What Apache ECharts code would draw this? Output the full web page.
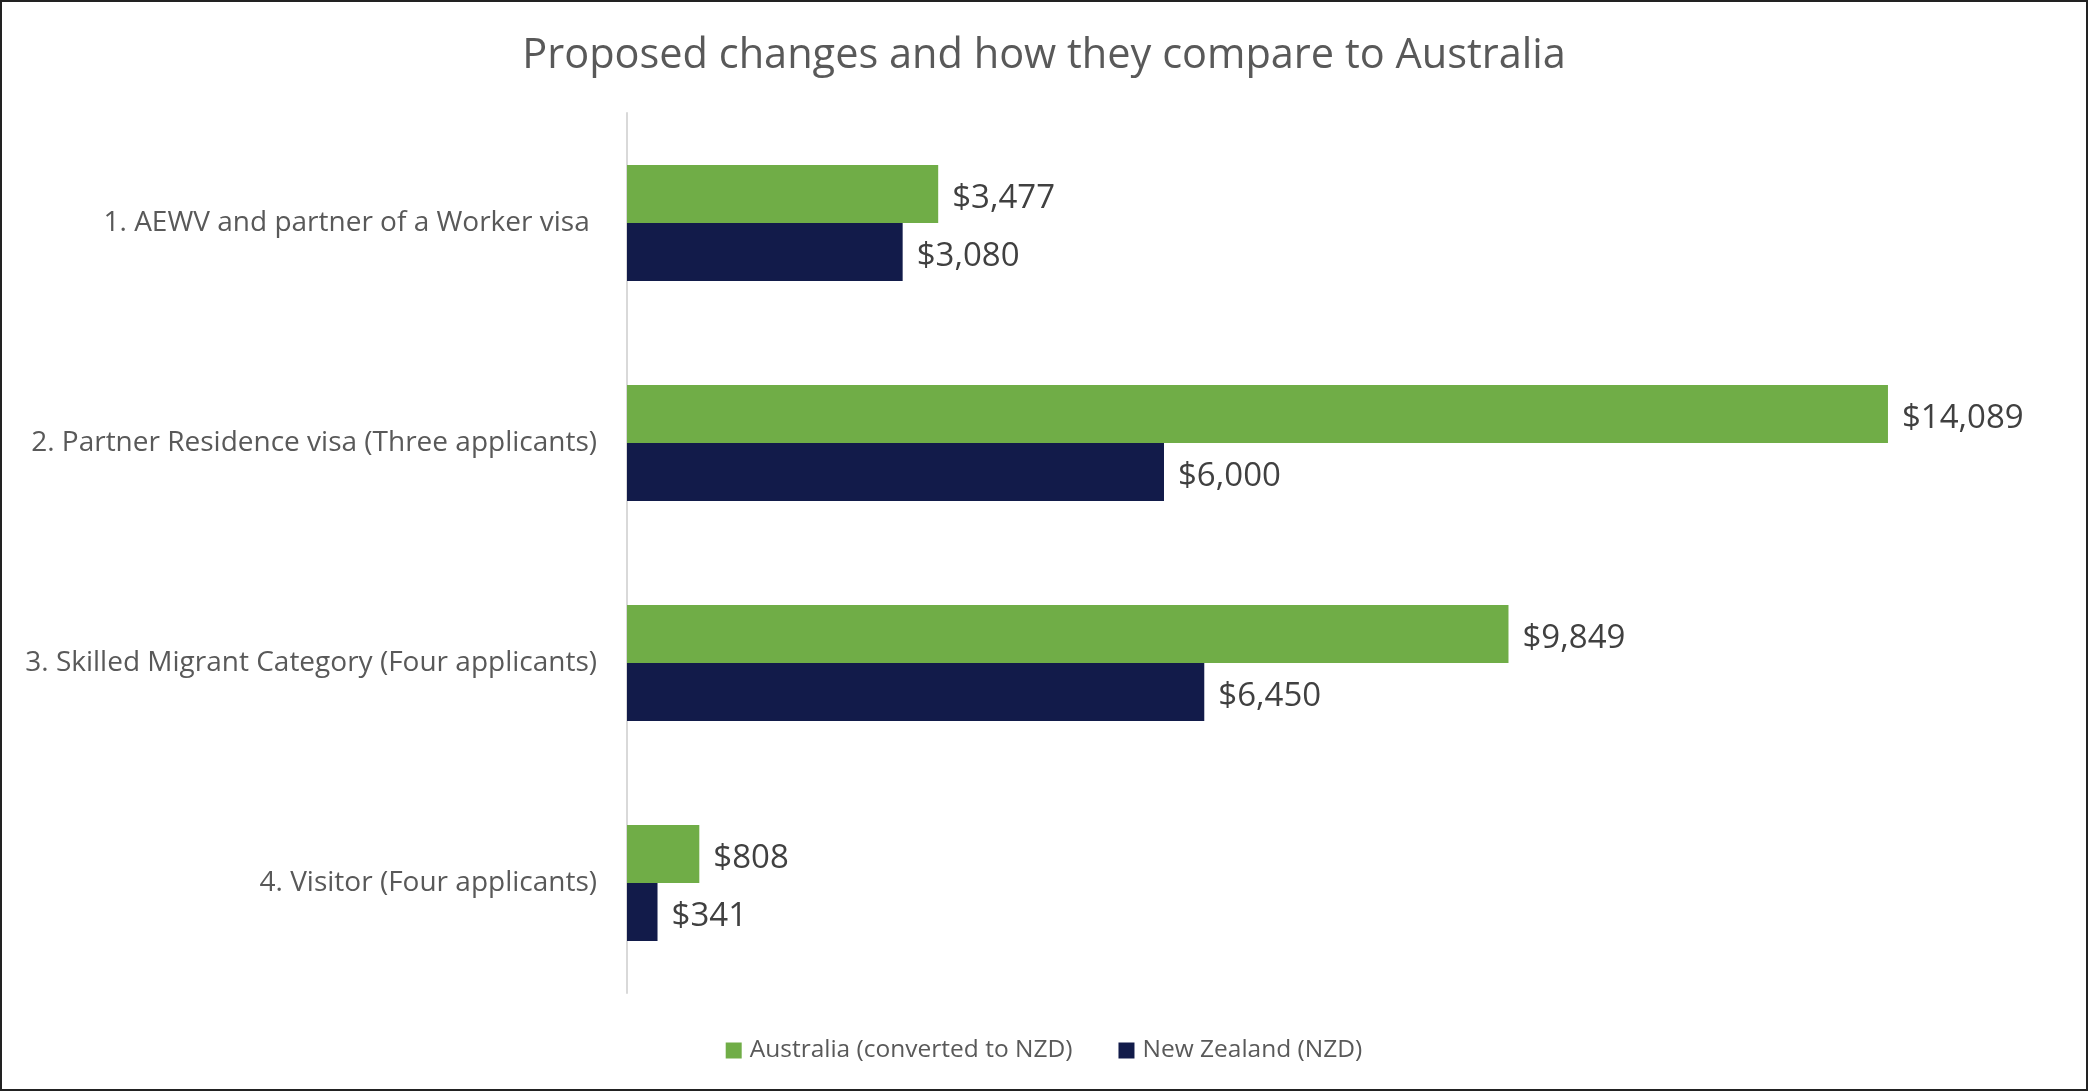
<!DOCTYPE html>
<html>
<head>
<meta charset="utf-8">
<script src="https://cdn.jsdelivr.net/npm/echarts@6/dist/echarts.min.js"></script>
<style>
  html, body { margin: 0; padding: 0; background: #fff; }
  #frame { width: 2088px; height: 1091px; box-sizing: border-box; border: 2px solid #222; position: relative; }
  #chart { position: absolute; left: -2px; top: -2px; width: 2088px; height: 1091px; }
</style>
</head>
<body>
<div id="frame"><div id="chart"></div></div>
<script>
const titleText = 'Proposed changes and how they compare to Australia';
const categories = [
  '1. AEWV and partner of a Worker visa ',
  '2. Partner Residence visa (Three applicants)',
  '3. Skilled Migrant Category (Four applicants)',
  '4. Visitor (Four applicants)'
];
const seriesNames = ['Australia (converted to NZD)', 'New Zealand (NZD)'];
const australiaValues = [3477, 14089, 9849, 808];
const newZealandValues = [3080, 6000, 6450, 341];

const FONT = '"Open Sans", "Noto Sans", sans-serif';
const chart = echarts.init(document.getElementById('chart'), null, { renderer: 'canvas' });
const fmt = p => '$' + p.value.toLocaleString('en-US');

chart.setOption({
  animation: false,
  backgroundColor: 'transparent',
  title: {
    text: titleText,
    left: 'center',
    top: 35,
    padding: 0,
    textStyle: { fontFamily: FONT, fontSize: 41.5, fontWeight: 'normal', color: '#595959' }
  },
  legend: {
    data: seriesNames,
    left: 'center',
    top: 1038,
    padding: 0,
    itemWidth: 16,
    itemHeight: 16,
    itemGap: 46,
    icon: 'rect',
    textStyle: { fontFamily: FONT, fontSize: 24.5, color: '#595959', padding: [0, 0, 0, 3] }
  },
  grid: { left: 627, right: 29, top: 113, bottom: 98, containLabel: false },
  xAxis: {
    type: 'value',
    min: 0,
    max: 16000,
    show: false,
    splitLine: { show: false }
  },
  yAxis: {
    type: 'category',
    data: categories,
    inverse: true,
    axisLine: { show: true, lineStyle: { color: '#D9D9D9', width: 2 } },
    axisTick: { show: false },
    axisLabel: { fontFamily: FONT, fontSize: 28, color: '#595959', margin: 30 }
  },
  series: [
    {
      name: seriesNames[0],
      type: 'bar',
      data: australiaValues,
      barWidth: 58,
      barGap: '0%',
      itemStyle: { color: '#70AD47' },
      label: { show: true, position: 'right', distance: 14, offset: [0, 5], formatter: fmt, fontFamily: FONT, fontSize: 33, color: '#404040' }
    },
    {
      name: seriesNames[1],
      type: 'bar',
      data: newZealandValues,
      barWidth: 58,
      barGap: '0%',
      itemStyle: { color: '#121B4A' },
      label: { show: true, position: 'right', distance: 14, offset: [0, 5], formatter: fmt, fontFamily: FONT, fontSize: 33, color: '#404040' }
    }
  ]
});
</script>
</body>
</html>
